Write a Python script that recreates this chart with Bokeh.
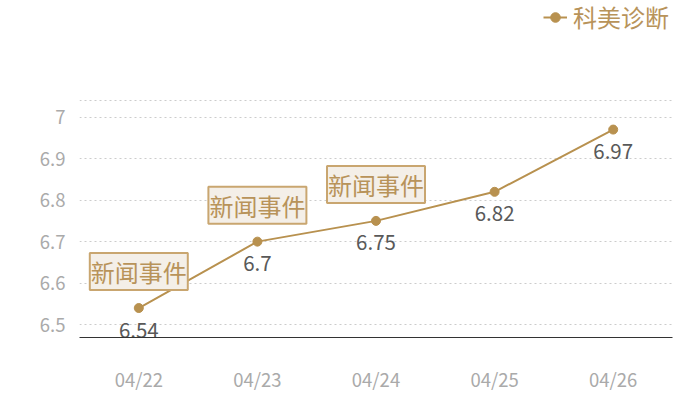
from bokeh.plotting import figure
from bokeh.models import ColumnDataSource, Range1d, Span, Legend, LegendItem, FixedTicker
from bokeh.core.properties import value
from bokeh.embed import file_html
from bokeh.resources import INLINE

dates = ["04/22", "04/23", "04/24", "04/25", "04/26"]
values = [6.54, 6.7, 6.75, 6.82, 6.97]
value_labels = ["6.54", "6.7", "6.75", "6.82", "6.97"]
event_dates = ["04/22", "04/23", "04/24"]
event_values = [6.54, 6.7, 6.75]
event_texts = ["新闻事件", "新闻事件", "新闻事件"]
series_name = "科美诊断"
y_ticks = [6.5, 6.6, 6.7, 6.8, 6.9, 7.0]
y_top_line = 7.04

FONT = "Noto Sans CJK SC"
GOLD = "#b8914f"

src = ColumnDataSource(dict(x=dates, y=values, lab=value_labels))
ev = ColumnDataSource(dict(x=event_dates, y=event_values, t=event_texts))

p = figure(x_range=dates, y_range=Range1d(6.469, 7.281), width=700, height=400,
           output_backend="svg", toolbar_location=None,
           min_border_left=79, min_border_right=28, min_border_top=0, min_border_bottom=63)
p.outline_line_color = None
p.background_fill_color = "white"

ln = p.line("x", "y", source=src, line_color=GOLD, line_width=2)
sc = p.scatter("x", "y", source=src, size=9, fill_color=GOLD, line_color=GOLD)

p.text("x", "y", text="lab", source=src, text_font=value(FONT), text_font_size="20.5px",
       text_color="#595959", text_align="center", text_baseline="middle", y_offset=22)

p.text("x", "y", text="t", source=ev, text_font=value(FONT), text_font_size="24px",
       text_color="#b8935a", anchor="bottom_center", y_offset=-18,
       background_fill_color="#f4efe8", border_line_color="#c9a670", border_line_width=2,
       padding=1)

top = Span(location=y_top_line, dimension="width", line_color="#cccccc",
           line_dash="2 3", line_width=1)
p.add_layout(top)

p.xgrid.grid_line_color = None
p.ygrid.grid_line_color = "#cccccc"
p.ygrid.grid_line_dash = "2 3"
p.yaxis.ticker = FixedTicker(ticks=y_ticks)

for ax in (p.xaxis[0], p.yaxis[0]):
    ax.major_tick_line_color = None
    ax.minor_tick_line_color = None
    ax.major_label_text_color = "#aaaaaa"
    ax.major_label_text_font = FONT
    ax.major_label_text_font_size = "18.5px"
p.yaxis.axis_line_color = None
p.yaxis.major_label_standoff = 8
p.xaxis.axis_line_color = "#333333"
p.xaxis.major_label_standoff = 22

legend = Legend(items=[LegendItem(label=series_name, renderers=[ln, sc])],
                location=(464, 303), orientation="horizontal",
                label_text_font=FONT, label_text_font_size="24px",
                label_text_color="#b8935a", glyph_width=24, glyph_height=26,
                label_standoff=6, padding=0, margin=0, spacing=0,
                border_line_alpha=0, background_fill_alpha=0)
p.add_layout(legend, "center")

open("out.html", "w").write(file_html(p, INLINE))
